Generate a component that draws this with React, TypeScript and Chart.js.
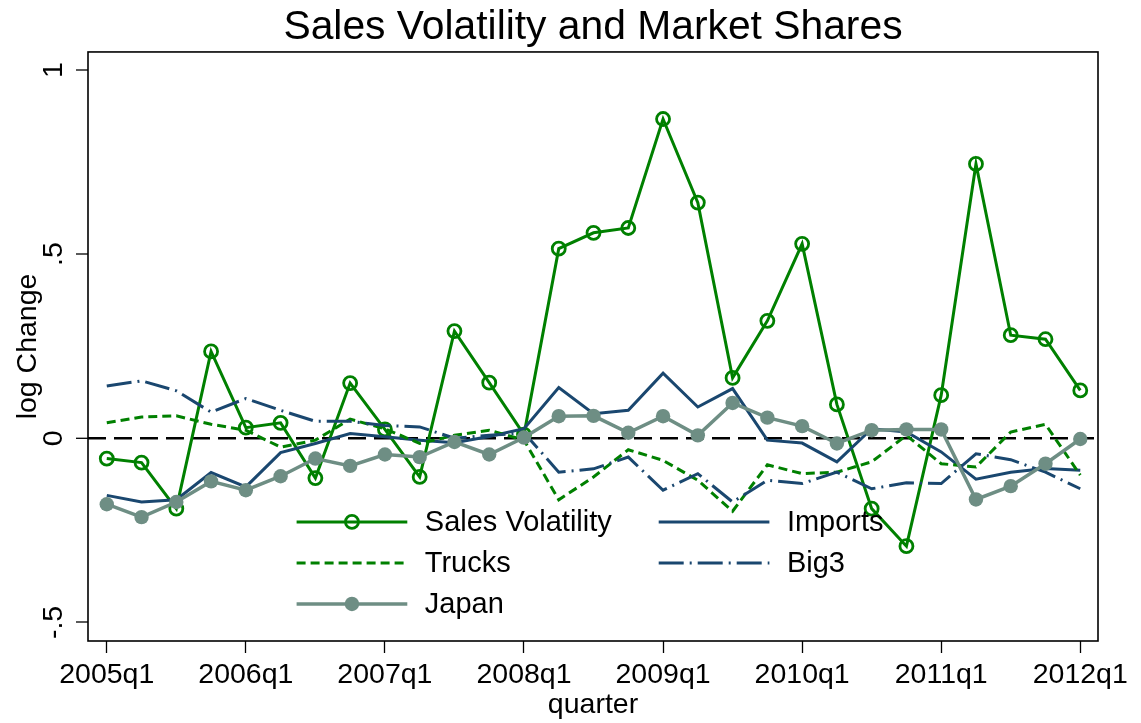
import React, { useEffect, useRef } from 'react';
import { Chart, registerables } from 'chart.js';

Chart.register(...registerables);

// ---------- data ----------
const quarters = [
  '2005q1', '2005q2', '2005q3', '2005q4',
  '2006q1', '2006q2', '2006q3', '2006q4',
  '2007q1', '2007q2', '2007q3', '2007q4',
  '2008q1', '2008q2', '2008q3', '2008q4',
  '2009q1', '2009q2', '2009q3', '2009q4',
  '2010q1', '2010q2', '2010q3', '2010q4',
  '2011q1', '2011q2', '2011q3', '2011q4',
  '2012q1',
];

const salesVolatility = [
  -0.055, -0.066, -0.191, 0.236, 0.029, 0.042, -0.108, 0.150, 0.024, -0.105,
  0.291, 0.151, 0.010, 0.515, 0.558, 0.571, 0.867, 0.640, 0.164, 0.319,
  0.528, 0.092, -0.191, -0.293, 0.117, 0.745, 0.280, 0.269, 0.130,
];

const imports = [
  -0.155, -0.173, -0.167, -0.093, -0.132, -0.039, -0.014, 0.013, 0.004, -0.005,
  -0.012, 0.005, 0.026, 0.138, 0.067, 0.076, 0.177, 0.085, 0.135, -0.005,
  -0.013, -0.064, 0.026, 0.017, -0.037, -0.111, -0.092, -0.082, -0.087,
];

const trucks = [
  0.042, 0.058, 0.061, 0.038, 0.022, -0.024, -0.005, 0.052, 0.026, -0.014,
  0.008, 0.022, -0.005, -0.167, -0.105, -0.031, -0.060, -0.114, -0.198, -0.072,
  -0.096, -0.092, -0.064, 0.008, -0.069, -0.078, 0.017, 0.038, -0.100,
];

const big3 = [
  0.142, 0.156, 0.129, 0.071, 0.108, 0.076, 0.046, 0.046, 0.035, 0.031,
  0.000, 0.008, 0.015, -0.092, -0.083, -0.051, -0.141, -0.096, -0.173, -0.114,
  -0.123, -0.092, -0.137, -0.121, -0.123, -0.042, -0.058, -0.092, -0.137,
];

const japan = [
  -0.179, -0.214, -0.173, -0.117, -0.141, -0.103, -0.055, -0.075, -0.044, -0.051,
  -0.010, -0.044, 0.002, 0.060, 0.061, 0.015, 0.060, 0.008, 0.096, 0.056,
  0.033, -0.014, 0.022, 0.024, 0.024, -0.166, -0.130, -0.069, -0.002,
];

const xTickIndices = [0, 4, 8, 12, 16, 20, 24, 28];
const yTickValues = [-0.5, 0, 0.5, 1];
const yTickLabels = ['-.5', '0', '.5', '1'];

// ---------- styles ----------
const FONT = '"Liberation Sans", Arial, Helvetica, sans-serif';
const GREEN = '#008000';
const NAVY = '#1a476f';
const TEAL = '#6e8e84';

// legend layout: [datasetIndex, column, row]
const legendSlots: [number, number, number][] = [
  [0, 0, 0], [1, 1, 0], [2, 0, 1], [3, 1, 1], [4, 0, 2],
];
const LEGEND_COL_X = [208.6, 570.7];
const LEGEND_ROW_Y = [470, 511, 552];
const LEGEND_SAMPLE_LEN = 110.7;
const LEGEND_TEXT_GAP = 17.5;

const toXY = (arr: number[]) => arr.map((v, i) => ({ x: i, y: v }));

const frameBox = {
  id: 'frameBox',
  beforeDatasetsDraw(chart: any) {
    const { ctx, chartArea } = chart;
    ctx.save();
    ctx.strokeStyle = '#000';
    ctx.lineWidth = 1.6;
    ctx.strokeRect(chartArea.left, chartArea.top, chartArea.right - chartArea.left, chartArea.bottom - chartArea.top);
    ctx.restore();
  },
};

const stataLegend = {
  id: 'stataLegend',
  afterDatasetsDraw(chart: any) {
    const { ctx, chartArea } = chart;
    ctx.save();
    for (const [di, col, row] of legendSlots) {
      const ds: any = chart.data.datasets[di];
      const x0 = chartArea.left + LEGEND_COL_X[col];
      const x1 = x0 + LEGEND_SAMPLE_LEN;
      const y = chartArea.top + LEGEND_ROW_Y[row];
      ctx.beginPath();
      ctx.setLineDash(ds.borderDash || []);
      ctx.lineWidth = ds.borderWidth;
      ctx.strokeStyle = ds.borderColor;
      ctx.moveTo(x0, y);
      ctx.lineTo(x1, y);
      ctx.stroke();
      ctx.setLineDash([]);
      if (ds.pointRadius > 0) {
        const cx = (x0 + x1) / 2;
        ctx.beginPath();
        ctx.arc(cx, y, ds.pointRadius, 0, Math.PI * 2);
        if (ds.pointBackgroundColor && ds.pointBackgroundColor !== 'rgba(0,0,0,0)') {
          ctx.fillStyle = ds.pointBackgroundColor;
          ctx.fill();
        }
        if (ds.pointBorderWidth > 0) {
          ctx.lineWidth = ds.pointBorderWidth;
          ctx.strokeStyle = ds.pointBorderColor;
          ctx.stroke();
        }
      }
      ctx.fillStyle = '#000';
      ctx.font = `29px ${FONT}`;
      ctx.textAlign = 'left';
      ctx.textBaseline = 'middle';
      ctx.fillText(ds.label, x1 + LEGEND_TEXT_GAP, y + 1.5);
    }
    ctx.restore();
  },
};

export default function App() {
  const canvasRef = useRef<HTMLCanvasElement | null>(null);

  useEffect(() => {
    document.body.style.margin = '0';
    const canvas = canvasRef.current;
    if (!canvas) return;
    Chart.defaults.font.family = FONT;
    Chart.defaults.color = '#000';

    const chart = new Chart(canvas, {
      type: 'line',
      data: {
        datasets: [
          {
            label: 'Sales Volatility',
            data: toXY(salesVolatility),
            borderColor: GREEN,
            borderWidth: 3,
            pointRadius: 6.5,
            pointStyle: 'circle',
            pointBorderWidth: 2.8,
            pointBorderColor: GREEN,
            pointBackgroundColor: 'rgba(0,0,0,0)',
            tension: 0,
            order: 5,
          },
          {
            label: 'Imports',
            data: toXY(imports),
            borderColor: NAVY,
            borderWidth: 3,
            pointRadius: 0,
            tension: 0,
            order: 4,
          },
          {
            label: 'Trucks',
            data: toXY(trucks),
            borderColor: GREEN,
            borderWidth: 3,
            borderDash: [9, 5],
            pointRadius: 0,
            tension: 0,
            order: 3,
          },
          {
            label: 'Big3',
            data: toXY(big3),
            borderColor: NAVY,
            borderWidth: 3,
            borderDash: [25, 6, 2, 6],
            pointRadius: 0,
            tension: 0,
            order: 2,
          },
          {
            label: 'Japan',
            data: toXY(japan),
            borderColor: TEAL,
            borderWidth: 3.5,
            pointRadius: 7.2,
            pointStyle: 'circle',
            pointBorderWidth: 0,
            pointBorderColor: TEAL,
            pointBackgroundColor: TEAL,
            tension: 0,
            order: 1,
          },
        ] as any,
      },
      options: {
        animation: false,
        responsive: false,
        devicePixelRatio: 1,
        layout: { padding: { left: 0, right: 43, top: 0, bottom: 0 } },
        plugins: {
          legend: { display: false },
          tooltip: { enabled: false },
          title: {
            display: true,
            fullSize: false,
            text: 'Sales Volatility and Market Shares',
            color: '#000',
            font: { size: 40.8, weight: 'normal', family: FONT },
            padding: { top: 3, bottom: 0 },
          },
        },
        scales: {
          x: {
            type: 'linear',
            min: -0.54,
            max: 28.51,
            afterBuildTicks: (scale: any) => {
              scale.ticks = xTickIndices.map((v) => ({ value: v }));
            },
            afterFit: (scale: any) => {
              scale.height = 82;
            },
            ticks: {
              autoSkip: false,
              maxRotation: 0,
              minRotation: 0,
              padding: 5,
              color: '#000',
              font: { size: 28.5, family: FONT },
              callback: (value: any) => quarters[value as number] ?? '',
            },
            grid: {
              drawOnChartArea: false,
              drawTicks: true,
              tickLength: 12,
              tickWidth: 1.3,
              tickColor: '#000',
            },
            border: { display: false },
            title: {
              display: true,
              text: 'quarter',
              color: '#000',
              font: { size: 28.5, family: FONT },
              padding: { top: 0, bottom: 1 },
            },
          },
          y: {
            type: 'linear',
            min: -0.5504,
            max: 1.049,
            afterBuildTicks: (scale: any) => {
              scale.ticks = yTickValues.map((v) => ({ value: v }));
            },
            afterFit: (scale: any) => {
              scale.width = 88;
            },
            ticks: {
              autoSkip: false,
              minRotation: 90,
              maxRotation: 90,
              crossAlign: 'center',
              padding: 5,
              color: '#000',
              font: { size: 28.5, family: FONT },
              callback: (value: any) => {
                const idx = yTickValues.indexOf(value as number);
                return idx >= 0 ? yTickLabels[idx] : '';
              },
            },
            grid: {
              drawOnChartArea: true,
              drawTicks: true,
              tickLength: 12,
              tickWidth: 1.3,
              tickColor: '#000',
              color: (ctx: any) => (ctx.tick && ctx.tick.value === 0 ? '#000' : 'rgba(0,0,0,0)'),
              lineWidth: (ctx: any) => (ctx.tick && ctx.tick.value === 0 ? 2.6 : 0),
              borderDash: [18, 8],
              tickBorderDash: [],
            } as any,
            border: { display: false, dash: [18, 8] },
            title: {
              display: true,
              text: 'log Change',
              color: '#000',
              font: { size: 28.5, family: FONT },
              padding: { top: 11, bottom: 0 },
            },
          },
        },
      } as any,
      plugins: [frameBox, stataLegend],
    });

    return () => {
      chart.destroy();
    };
  }, []);

  return (
    <div style={{ position: 'fixed', left: 0, top: 0, width: 1141, height: 723, background: '#fff' }}>
      <canvas ref={canvasRef} width={1141} height={723} style={{ display: 'block' }} />
    </div>
  );
}
